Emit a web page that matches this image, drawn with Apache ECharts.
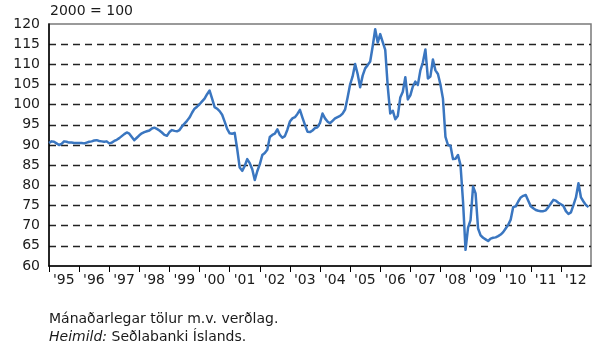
<!DOCTYPE html>
<html>
<head>
<meta charset="utf-8">
<script src="https://cdn.jsdelivr.net/npm/echarts@6/dist/echarts.min.js"></script>
<style>
  html, body { margin: 0; padding: 0; background: #fff; }
  #chart { width: 594px; height: 349px; }
</style>
</head>
<body>
<div id="chart"></div>
<script>
// Real exchange rate index, monthly, 2000 = 100
const startYear = 1995;
const endYear = 2013;
const indexValues = [
  // 1995
  90.5, 90.9, 90.8, 90.4, 90.0, 90.3, 90.9, 90.8, 90.6, 90.6, 90.5, 90.5,
  // 1996
  90.5, 90.5, 90.4, 90.6, 90.8, 90.9, 91.1, 91.2, 91.0, 90.9, 90.8, 90.9,
  // 1997
  90.4, 90.6, 91.0, 91.3, 91.7, 92.2, 92.7, 93.1, 92.8, 92.0, 91.2, 91.8,
  // 1998
  92.4, 92.9, 93.2, 93.4, 93.6, 94.1, 94.3, 94.0, 93.6, 93.1, 92.5, 92.3,
  // 1999
  93.2, 93.7, 93.5, 93.4, 93.7, 94.6, 95.3, 96.0, 96.8, 98.0, 99.0, 99.5,
  // 2000
  100.1, 100.8, 101.5, 102.6, 103.5, 101.5, 99.4, 99.0, 98.4, 97.5, 95.8, 94.0,
  // 2001
  92.9, 92.8, 93.0, 89.0, 84.4, 83.6, 84.8, 86.5, 85.5, 84.0, 81.3, 83.5,
  // 2002
  85.2, 87.5, 88.0, 88.8, 92.0, 92.5, 92.8, 93.9, 92.5, 91.8, 92.2, 93.8,
  // 2003
  95.8, 96.6, 96.9, 97.7, 98.7, 96.8, 95.0, 93.3, 93.2, 93.6, 94.2, 94.4,
  // 2004
  95.5, 97.8, 96.6, 95.8, 95.4, 96.0, 96.6, 96.9, 97.2, 97.8, 98.8, 101.8,
  // 2005
  105.0, 107.0, 110.1, 107.6, 104.3, 107.2, 109.0, 109.8, 110.7, 114.5, 118.7, 115.4,
  // 2006
  117.5, 115.5, 113.6, 104.5, 97.8, 98.5, 96.4, 97.2, 101.8, 103.2, 106.8, 101.3,
  // 2007
  102.3, 104.5, 105.7, 104.9, 108.5, 110.5, 113.7, 106.5, 107.0, 111.2, 108.5, 107.6,
  // 2008
  105.0, 101.5, 92.0, 90.0, 89.8, 86.5, 86.6, 87.5, 85.0, 76.0, 64.0, 69.5,
  // 2009
  71.4, 79.7, 78.0, 69.3, 67.6, 67.0, 66.6, 66.2, 66.8, 67.0, 67.1, 67.4,
  // 2010
  67.8, 68.4, 69.3, 70.2, 71.5, 74.6, 74.8, 76.0, 77.0, 77.4, 77.6, 76.2,
  // 2011
  74.8, 74.3, 73.9, 73.7, 73.6, 73.6, 73.8, 74.6, 75.5, 76.4, 76.2, 75.7,
  // 2012
  75.3, 74.9, 73.6, 72.9, 73.3, 75.1, 77.0, 80.5, 77.0, 76.0, 75.1, 74.6
];
const yearLabels = ["'95", "'96", "'97", "'98", "'99", "'00", "'01", "'02", "'03",
  "'04", "'05", "'06", "'07", "'08", "'09", "'10", "'11", "'12"];
const yMin = 60, yMax = 120, yStep = 5;
const unitLabel = '2000 = 100';
const noteText = 'Mánaðarlegar tölur m.v. verðlag.';
const sourceLabel = 'Heimild:';
const sourceText = ' Seðlabanki Íslands.';

const FONT = '"DejaVu Sans", sans-serif';

// month i sits at startYear + i/12 on the year axis
const seriesData = indexValues.map((v, i) => [startYear + i / 12, v]);

const chart = echarts.init(document.getElementById('chart'), null, { renderer: 'canvas' });
chart.setOption({
  animation: false,
  backgroundColor: '#ffffff',
  grid: {
    left: 49, right: 3, top: 24, bottom: 83,
    show: true, borderColor: '#7a7a7a', borderWidth: 1.5, backgroundColor: 'transparent'
  },
  xAxis: {
    type: 'value',
    min: startYear, max: endYear, interval: 1,
    axisLine: { show: true, onZero: false, lineStyle: { color: '#000', width: 1.5 } },
    axisTick: { show: true, inside: false, length: 6, lineStyle: { color: '#000', width: 1 } },
    splitLine: { show: false },
    axisLabel: {
      show: true,
      margin: 7,
      align: 'left',
      padding: [0, 0, 0, 4],
      fontFamily: FONT, fontSize: 14, color: '#1a1a1a',
      showMaxLabel: false,
      formatter: v => {
        const idx = Math.round(v) - startYear;
        return yearLabels[idx] || '';
      }
    }
  },
  yAxis: {
    type: 'value',
    min: yMin, max: yMax, interval: yStep,
    axisLine: { show: true, lineStyle: { color: '#000', width: 1.5 } },
    axisTick: { show: false },
    splitLine: {
      show: true, showMinLine: false, showMaxLine: false,
      lineStyle: { color: '#222', width: 1.4, type: [7, 5] }
    },
    axisLabel: { margin: 9, fontFamily: FONT, fontSize: 14, color: '#1a1a1a' }
  },
  series: [{
    type: 'line',
    data: seriesData,
    showSymbol: false,
    smooth: false,
    lineStyle: { color: '#3a76c0', width: 2.5, join: 'round' },
    z: 5
  }],
  graphic: [
    {
      type: 'text', left: 50, top: 4,
      style: { text: unitLabel, font: '14px ' + FONT, fill: '#1a1a1a' }
    },
    {
      type: 'text', left: 49, top: 312,
      style: { text: noteText, font: '14px ' + FONT, fill: '#1a1a1a' }
    },
    {
      type: 'text', left: 49, top: 330,
      style: {
        text: '{i|' + sourceLabel + '}{n|' + sourceText + '}',
        rich: {
          i: { fontFamily: FONT, fontSize: 14, fontStyle: 'italic', fill: '#1a1a1a' },
          n: { fontFamily: FONT, fontSize: 14, fill: '#1a1a1a' }
        }
      }
    }
  ]
});
</script>
</body>
</html>
